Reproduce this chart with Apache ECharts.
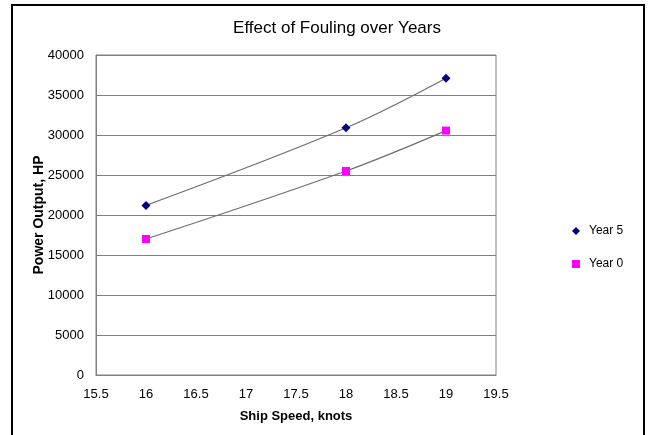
<!DOCTYPE html>
<html>
<head>
<meta charset="utf-8">
<script src="https://cdn.jsdelivr.net/npm/echarts@6/dist/echarts.min.js"></script>
<style>
  html, body { margin: 0; padding: 0; background: #fff; }
  #chart { width: 650px; height: 435px; }
</style>
</head>
<body>
<div id="chart"></div>
<script>
// Ship speed (knots) at which power was measured
const speeds = [16, 18, 19];
// Power output (HP) after five years of fouling
const year5 = [21200, 30900, 37100];
// Power output (HP) with a clean hull
const year0 = [17000, 25500, 30550];
const seriesNames = ['Year 5', 'Year 0'];

const font = 'Arial, "Liberation Sans", sans-serif';
const pairs = (xs, ys) => xs.map((x, i) => [x, ys[i]]);

const chart = echarts.init(document.getElementById('chart'), null, { renderer: 'canvas' });

function curve(name, data, color, symbol, size) {
  return {
    name: name,
    type: 'line',
    data: data,
    smooth: 0.35,
    symbol: symbol,
    symbolSize: size,
    showSymbol: true,
    itemStyle: { color: color },
    lineStyle: { color: '#6e6e6e', width: 1.2 },
    emphasis: { disabled: true },
    z: 3
  };
}

chart.setOption({
  animation: false,
  backgroundColor: '#fff',
  title: {
    text: 'Effect of Fouling over Years',
    left: 332, top: 15, textAlign: 'center',
    textStyle: { fontFamily: font, fontSize: 17, fontWeight: 'normal', color: '#000' }
  },
  graphic: [{
    type: 'rect',
    shape: { x: 12, y: 5, width: 632, height: 440 },
    style: { fill: null, stroke: '#000', lineWidth: 2 },
    silent: true
  }],
  legend: {
    orient: 'vertical',
    left: 567, top: 220,
    itemGap: 21,
    itemWidth: 8, itemHeight: 8,
    data: [
      { name: seriesNames[0], icon: 'diamond' },
      { name: seriesNames[1], icon: 'rect' }
    ],
    textStyle: { fontFamily: font, fontSize: 12, color: '#000', padding: [0, 0, 0, 4] }
  },
  grid: {
    left: 96, top: 55, width: 400, height: 320,
    show: true, borderColor: '#808080', borderWidth: 1
  },
  xAxis: {
    type: 'value',
    min: 15.5, max: 19.5, interval: 0.5,
    name: 'Ship Speed, knots',
    nameLocation: 'middle', nameGap: 35,
    nameMoveOverlap: false,
    nameTextStyle: { fontFamily: font, fontSize: 13, fontWeight: 'bold', color: '#000' },
    axisLine: { show: true, lineStyle: { color: '#808080' } },
    axisTick: { show: false },
    splitLine: { show: false },
    axisLabel: { fontFamily: font, fontSize: 13, color: '#000', margin: 13 }
  },
  yAxis: {
    type: 'value',
    min: 0, max: 40000, interval: 5000,
    name: 'Power Output, HP',
    nameLocation: 'middle', nameGap: 50,
    nameMoveOverlap: false,
    nameTextStyle: { fontFamily: font, fontSize: 14, fontWeight: 'bold', color: '#000' },
    axisLine: { show: true, lineStyle: { color: '#808080' } },
    axisTick: { show: false },
    splitLine: { show: true, lineStyle: { color: '#808080', width: 1 } },
    axisLabel: { fontFamily: font, fontSize: 13, color: '#000', margin: 12, formatter: v => String(v) }
  },
  series: [
    curve(seriesNames[0], pairs(speeds, year5), '#000080', 'diamond', 9),
    curve(seriesNames[1], pairs(speeds, year0), '#ff00ff', 'rect', 8)
  ]
});
</script>
</body>
</html>
